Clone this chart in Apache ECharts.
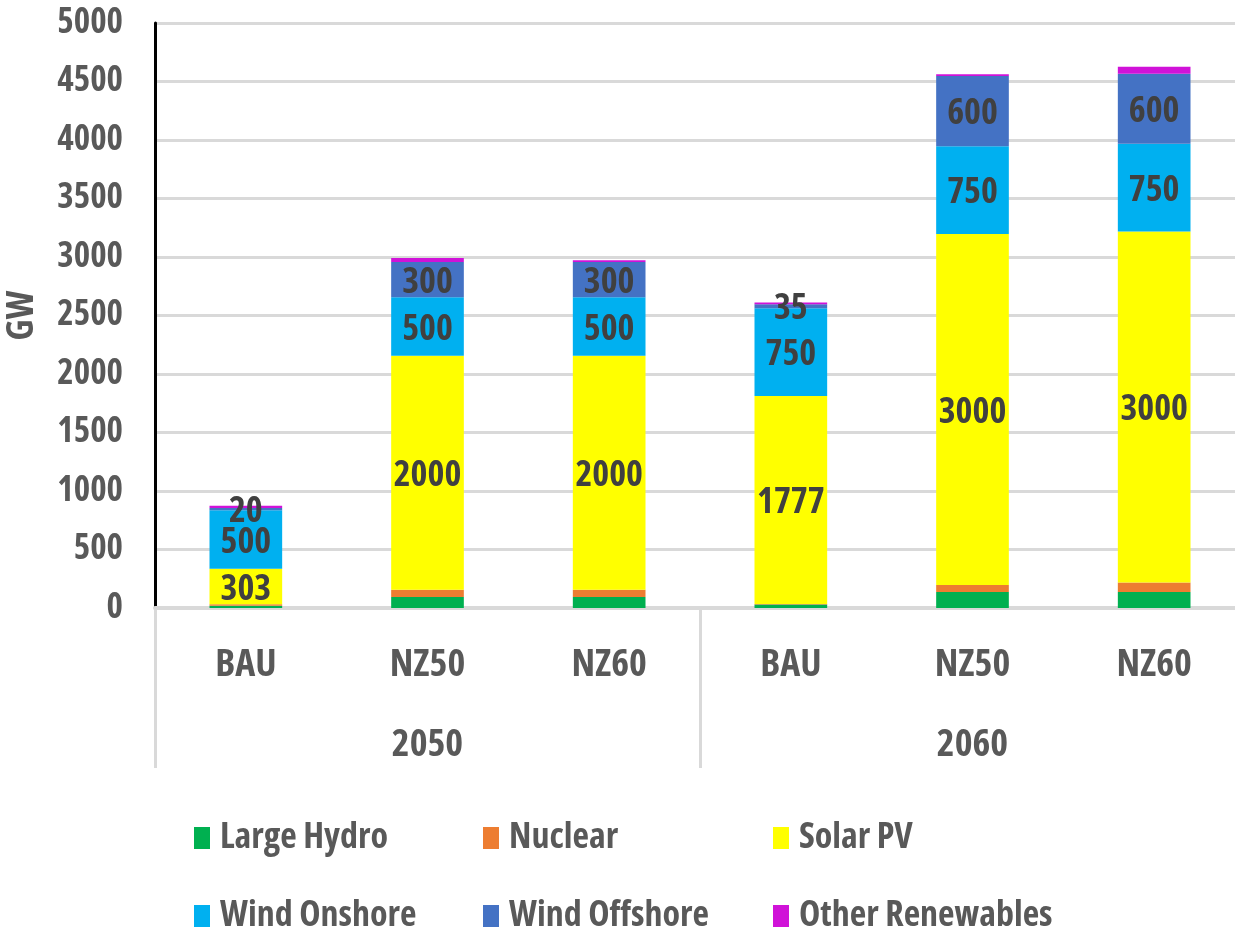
<!DOCTYPE html>
<html>
<head>
<meta charset="utf-8">
<title>Installed capacity by scenario</title>
<script src="https://cdn.jsdelivr.net/npm/echarts@6/dist/echarts.min.js"></script>
<style>
  html, body { margin: 0; padding: 0; background: #ffffff; }
  #chart { width: 1235px; height: 930px; }
</style>
</head>
<body>
<div id="chart"></div>
<script>
// Scenario categories (inner axis) and years (outer axis)
const scenarios = ['BAU', 'NZ50', 'NZ60', 'BAU', 'NZ50', 'NZ60'];
const years = ['2050', '2060'];

// Capacity by technology, GW
const largeHydro      = [20, 95, 95, 30, 137, 137];
const nuclear         = [12, 62, 62, 5, 60, 80];
const solarPV         = [303, 2000, 2000, 1777, 3000, 3000];
const windOnshore     = [500, 500, 500, 750, 750, 750];
const windOffshore    = [20, 300, 300, 35, 600, 600];
const otherRenewables = [20, 35, 15, 15, 15, 60];

// Y axis ticks
const yMin = 0, yMax = 5000, yStep = 500;

// Narrow bold face: condensed width of a variable sans where available
const FONT = '"Open Sans", "Liberation Sans", sans-serif';
const WEIGHT = 'bold condensed';
const AXIS_GREY = '#595959';
const LABEL_DARK = '#404040';

const seriesDefs = [
  { name: 'Large Hydro',      data: largeHydro,      color: '#00b050', label: false },
  { name: 'Nuclear',          data: nuclear,         color: '#ed7d31', label: false },
  { name: 'Solar PV',         data: solarPV,         color: '#ffff00', label: true },
  { name: 'Wind Onshore',     data: windOnshore,     color: '#00b0f0', label: true },
  { name: 'Wind Offshore',    data: windOffshore,    color: '#4472c4', label: true },
  { name: 'Other Renewables', data: otherRenewables, color: '#d012d8', label: false }
];

const series = seriesDefs.map(s => ({
  name: s.name,
  type: 'bar',
  stack: 'total',
  xAxisIndex: 0,
  barWidth: '40%',
  data: s.data,
  itemStyle: { color: s.color },
  label: {
    show: s.label,
    position: 'inside',
    offset: [0, 3],
    color: LABEL_DARK,
    fontFamily: FONT,
    fontWeight: WEIGHT,
    fontSize: 36
  },
  emphasis: { disabled: true }
}));

// One legend block per entry so the entries sit in a fixed 3x2 grid
const legendCols = [189, 478, 768];
const legendRows = [815, 893];
const legends = seriesDefs.map((s, i) => ({
  data: [s.name],
  left: legendCols[i % 3],
  top: legendRows[Math.floor(i / 3)],
  icon: 'rect',
  itemWidth: 16,
  itemHeight: 22,
  selectedMode: false,
  textStyle: {
    color: AXIS_GREY,
    fontFamily: FONT,
    fontWeight: WEIGHT,
    fontSize: 36,
    padding: [0, 0, 0, 5]
  }
}));

const chart = echarts.init(document.getElementById('chart'), null, { renderer: 'canvas' });
chart.setOption({
  animation: false,
  backgroundColor: '#ffffff',
  grid: {
    left: 155, right: -10, top: 23, bottom: 322,
    containLabel: false,
    outerBoundsMode: 'none'
  },
  legend: legends,
  xAxis: [
    {
      type: 'category',
      data: scenarios,
      position: 'bottom',
      axisLine: { show: true, lineStyle: { color: '#d9d9d9', width: 4 } },
      axisTick: { show: false },
      axisLabel: {
        color: AXIS_GREY,
        fontFamily: FONT,
        fontWeight: WEIGHT,
        fontSize: 38,
        margin: 38
      }
    },
    {
      type: 'category',
      data: years,
      position: 'bottom',
      axisLine: { show: false },
      axisTick: {
        show: true,
        length: 160,
        lineStyle: { color: '#d9d9d9', width: 3 }
      },
      axisLabel: {
        color: AXIS_GREY,
        fontFamily: FONT,
        fontWeight: WEIGHT,
        fontSize: 38,
        margin: 118
      },
      splitLine: { show: false }
    }
  ],
  yAxis: {
    type: 'value',
    min: yMin,
    max: yMax,
    interval: yStep,
    name: 'GW',
    nameLocation: 'middle',
    nameGap: 114,
    nameRotate: 90,
    nameTextStyle: {
      color: AXIS_GREY,
      fontFamily: FONT,
      fontWeight: WEIGHT,
      fontSize: 37
    },
    axisLine: { show: true, lineStyle: { color: '#000000', width: 3 } },
    axisTick: { show: false },
    axisLabel: {
      color: AXIS_GREY,
      fontFamily: FONT,
      fontWeight: WEIGHT,
      fontSize: 35,
      margin: 32,
      formatter: v => String(v)
    },
    splitLine: { show: true, lineStyle: { color: '#d9d9d9', width: 3 } }
  },
  series: series
});
</script>
</body>
</html>
